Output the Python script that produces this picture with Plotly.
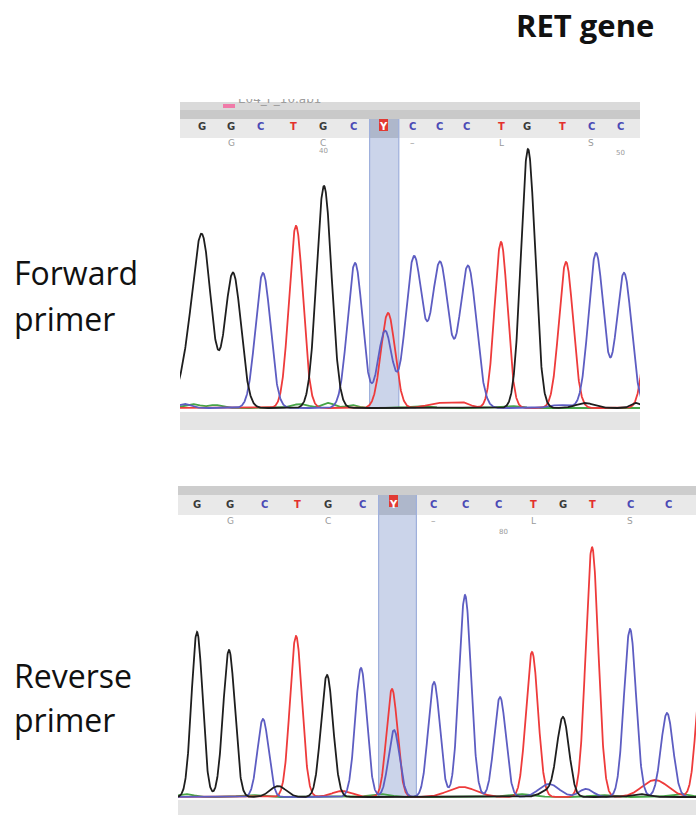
import numpy as np
import plotly.graph_objects as go

W, H = 696, 815

# ---------------- DATA ----------------
# Forward primer read: called bases and their scan positions
fwd_bases = list("GGCTGCYCCCTGTCC")
fwd_base_pos = [202, 231, 260, 293, 323, 353, 383, 412, 439, 466, 501, 527, 562, 591, 620]
fwd_aa = ["G", "C", "–", "L", "S"]
fwd_aa_pos = [231, 323, 412, 501, 591]
fwd_num = ["40", "50"]
fwd_num_pos = [323, 620]

# Forward traces: peak positions, heights, widths for each dye channel
fwd_black_pos = [202, 186, 233, 324, 528, 585, 636]
fwd_black_h = [170, 30, 135, 222, 259, 5, 5]
fwd_black_w = [9, 8, 8, 7.5, 7, 9, 5]
fwd_blue_pos = [185, 263, 355, 385, 414, 440, 468, 596, 624, 560]
fwd_blue_h = [4, 135, 145, 77, 151, 145, 142, 155, 135, 3]
fwd_blue_w = [6, 7.5, 7.5, 7, 8.3, 8.3, 8.3, 7.5, 7.5, 10]
fwd_red_pos = [296, 388, 501, 566, 652, 440, 462]
fwd_red_h = [182, 95, 166, 146, 120, 5, 5]
fwd_red_w = [7, 7, 6.5, 7, 7, 12, 8]
fwd_green_pos = [192, 215, 300, 328, 352, 420, 510]
fwd_green_h = [4, 3, 4, 5, 3, 2, 2]
fwd_green_w = [8, 6, 8, 6, 6, 10, 10]

# Reverse primer read
rev_bases = list("GGCTGCYCCCTGTCC")
rev_base_pos = [197, 230, 264, 297, 328, 362, 393, 433, 465, 498, 533, 563, 592, 630, 668]
rev_aa = ["G", "C", "–", "L", "S"]
rev_aa_pos = [230, 328, 433, 533, 630]
rev_num = ["80"]
rev_num_pos = [503]

rev_black_pos = [197, 229, 278, 327, 548, 563, 640]
rev_black_h = [165, 147, 11, 122, 6, 79, 3]
rev_black_w = [5.5, 5.8, 8, 6, 8, 6, 8]
rev_blue_pos = [263, 361, 394, 434, 465, 500, 549, 586, 630, 667]
rev_blue_h = [78, 129, 67, 115, 202, 100, 13, 8, 168, 84]
rev_blue_w = [5.5, 5.8, 5.5, 5.8, 6, 5.8, 10, 7, 6, 6]
rev_red_pos = [296, 342, 392, 462, 532, 592, 655, 703]
rev_red_h = [161, 6, 108, 10, 145, 250, 17, 150]
rev_red_w = [6, 10, 5.5, 14, 6, 6.2, 13, 6]
rev_green_pos = [185, 250, 380, 520, 600, 680]
rev_green_h = [3, 2, 3, 3, 2, 3]
rev_green_w = [8, 10, 10, 12, 10, 10]

# ---------------- STYLE ----------------
C_BLACK = "#1e1e1e"
C_BLUE = "#5d5dc2"
C_RED = "#ee3b3b"
C_GREEN = "#47a447"
BASE_COL = {"G": "#3a3a3a", "C": "#4b4bb5", "T": "#e3302c", "A": "#3a9a3a", "Y": "#ffffff"}


def px(x):
    return x / W


def py(y):
    return 1 - y / H


def trace_curve(pos, h, w, xs):
    y = np.zeros_like(xs)
    for p, hh, ww in zip(pos, h, w):
        y += hh * np.exp(-0.5 * ((xs - p) / ww) ** 2)
    return y


fig = go.Figure()

panels = [
    dict(xa="x", ya="y", xr=(180, 640),
         channels=[(fwd_green_pos, fwd_green_h, fwd_green_w, C_GREEN),
                   (fwd_red_pos, fwd_red_h, fwd_red_w, C_RED),
                   (fwd_blue_pos, fwd_blue_h, fwd_blue_w, C_BLUE),
                   (fwd_black_pos, fwd_black_h, fwd_black_w, C_BLACK)]),
    dict(xa="x2", ya="y2", xr=(178, 696),
         channels=[(rev_green_pos, rev_green_h, rev_green_w, C_GREEN),
                   (rev_red_pos, rev_red_h, rev_red_w, C_RED),
                   (rev_blue_pos, rev_blue_h, rev_blue_w, C_BLUE),
                   (rev_black_pos, rev_black_h, rev_black_w, C_BLACK)]),
]

for pnl in panels:
    xs = np.linspace(pnl["xr"][0] - 20, pnl["xr"][1] + 20, 2400)
    for pos, h, w, col in pnl["channels"]:
        fig.add_trace(go.Scatter(x=xs, y=trace_curve(pos, h, w, xs), mode="lines",
                                 line=dict(color=col, width=1.8),
                                 xaxis=pnl["xa"], yaxis=pnl["ya"], hoverinfo="skip",
                                 showlegend=False))

# file name label (clipped at its top like in the screenshot)
fig.add_trace(go.Scatter(x=[238], y=[0], mode="text", text=["E04_F_10.ab1"],
                         textposition="middle right",
                         textfont=dict(family="DejaVu Sans", size=12, color="#9c9c9c"),
                         xaxis="x3", yaxis="y3", cliponaxis=True, hoverinfo="skip",
                         showlegend=False))

shapes = []


def rect(x0, y0, x1, y1, color, layer="below"):
    shapes.append(dict(type="rect", xref="paper", yref="paper",
                       x0=px(x0), x1=px(x1), y0=py(y1), y1=py(y0),
                       fillcolor=color, layer=layer, line=dict(width=0)))


# ---- forward panel chrome ----
rect(180, 102, 640, 110, "#dadada")
rect(180, 110, 640, 119, "#c9c9c9")
rect(180, 119, 640, 138, "#e9e9e9")
rect(369, 119, 399, 138, "#aeb7cb")
rect(369, 138, 399, 408, "#cbd4ea")
rect(369, 119, 370.2, 408, "#9fb0dc")
rect(398.2, 119, 399.4, 408, "#9fb0dc")
rect(379, 119, 388, 131, "#e13a33")
rect(223, 104, 235, 108, "#f07aa8")
rect(180, 412, 640, 430, "#e5e5e5")

# ---- reverse panel chrome ----
rect(178, 486, 696, 495, "#cdcdcd")
rect(178, 495, 696, 515, "#e9e9e9")
rect(378, 495, 417, 515, "#aeb7cb")
rect(378, 515, 417, 797, "#cbd4ea")
rect(378, 495, 379.2, 797, "#9fb0dc")
rect(415.8, 495, 417, 797, "#9fb0dc")
rect(389, 495, 398, 507, "#e13a33")
rect(178, 800, 696, 815, "#e5e5e5")

annotations = []


def base_row(bases, pos, xref, y):
    for b, p in zip(bases, pos):
        annotations.append(dict(x=p, y=py(y), xref=xref, yref="paper", text=b,
                                showarrow=False, xanchor="center", yanchor="middle",
                                font=dict(family="DejaVu Sans", size=10,
                                          color=BASE_COL[b], weight="bold")))


def small_row(labels, pos, xref, y, size=9):
    for t, p in zip(labels, pos):
        annotations.append(dict(x=p, y=py(y), xref=xref, yref="paper", text=t,
                                showarrow=False, xanchor="center", yanchor="middle",
                                font=dict(family="DejaVu Sans", size=size, color="#9a9a9a")))


base_row(fwd_bases, fwd_base_pos, "x", 127)
small_row(fwd_aa, fwd_aa_pos, "x", 143)
small_row(fwd_num[:1], fwd_num_pos[:1], "x", 151, 7)
small_row(fwd_num[1:], fwd_num_pos[1:], "x", 153, 7)
base_row(rev_bases, rev_base_pos, "x2", 504)
small_row(rev_aa, rev_aa_pos, "x2", 521)
small_row(rev_num, rev_num_pos, "x2", 532, 7)


def label(text, x, y, size, bold=False):
    annotations.append(dict(x=px(x), y=py(y), xref="paper", yref="paper", text=text,
                            showarrow=False, xanchor="left", yanchor="middle",
                            font=dict(family="Open Sans", size=size, color="#111111",
                                      weight="bold" if bold else "normal")))


label("RET gene", 514, 25, 31, bold=True)
label("Forward", 12, 272, 32)
label("primer", 12, 318, 32)
label("Reverse", 12, 675, 32)
label("primer", 12, 719, 32)

hidden = dict(visible=False, showgrid=False, zeroline=False, fixedrange=True)

fig.update_layout(
    width=W, height=H,
    margin=dict(l=0, r=0, t=0, b=0),
    paper_bgcolor="white", plot_bgcolor="rgba(0,0,0,0)",
    shapes=shapes, annotations=annotations, showlegend=False,
    xaxis=dict(domain=[px(180), px(640)], range=[180, 640], anchor="y", **hidden),
    yaxis=dict(domain=[py(410), py(140)], range=[-2, 268], anchor="x", **hidden),
    xaxis2=dict(domain=[px(178), px(696)], range=[178, 696], anchor="y2", **hidden),
    yaxis2=dict(domain=[py(799), py(540)], range=[-2, 257], anchor="x2", **hidden),
    xaxis3=dict(domain=[px(180), px(640)], range=[180, 640], anchor="y3", **hidden),
    yaxis3=dict(domain=[py(110), py(99)], range=[-10, 1], anchor="x3", **hidden),
)

fig.write_html("out.html", config={"displayModeBar": False, "staticPlot": True},
               post_script="document.body.style.margin='0px';document.body.style.overflow='hidden';")
